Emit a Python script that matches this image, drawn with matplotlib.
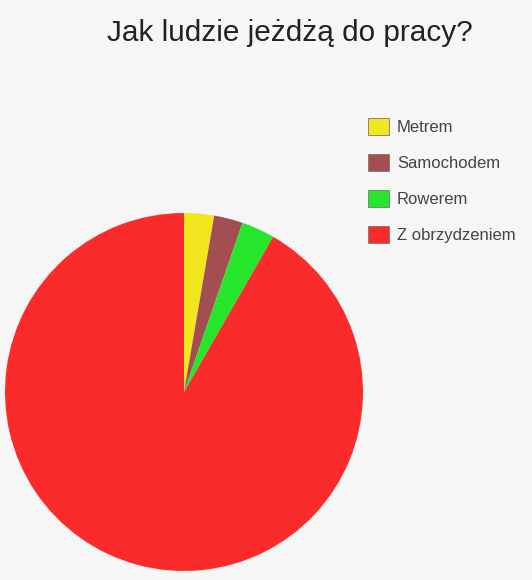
import matplotlib.pyplot as plt

plt.rcParams['font.family'] = ['Liberation Sans', 'DejaVu Sans']

# dane
labels = ['Metrem', 'Samochodem', 'Rowerem', 'Z obrzydzeniem']
values = [2.7, 2.6, 3.0, 91.7]
colors = ['#f2e61e', '#a34f52', '#25e62b', '#fa2b2b']

W, H = 532, 580
fig = plt.figure(figsize=(W / 100, H / 100), dpi=100)
fig.patch.set_facecolor('#f6f6f6')

# pie axes (pixel based)
cx, cy, r = 184, 392, 179
ax = fig.add_axes([(cx - r) / W, 1 - (cy + r) / H, 2 * r / W, 2 * r / H])
ax.set_facecolor('none')
wedges, _ = ax.pie(values, colors=colors, startangle=90, counterclock=False,
                   radius=1, wedgeprops=dict(linewidth=0))
ax.set_xlim(-1, 1)
ax.set_ylim(-1, 1)
ax.set_aspect('auto')
ax.axis('off')

fig.text(290 / W, 1 - 33 / H, 'Jak ludzie jeżdżą do pracy?', ha='center', va='center',
         fontsize=21.4, color='#222222')

leg = fig.legend(wedges, labels, loc='upper left', bbox_to_anchor=(361 / W, 1 - 111 / H),
                 frameon=False, fontsize=12, handlelength=1.3, handleheight=1.2,
                 handletextpad=0.45, labelspacing=1.13, borderaxespad=0)
for t in leg.get_texts():
    t.set_color('#444444')
for h in leg.legend_handles:
    h.set_edgecolor('#777777')
    h.set_linewidth(0.6)

fig.savefig('out.png', dpi=100, facecolor=fig.get_facecolor())
